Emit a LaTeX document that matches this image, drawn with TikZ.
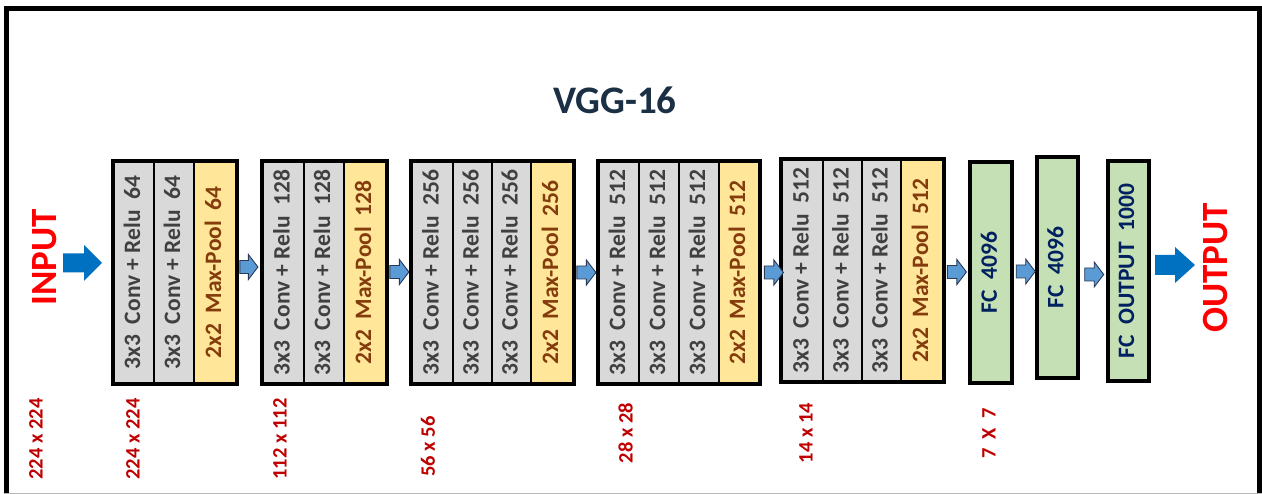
\documentclass[tikz,border=0pt]{standalone}
\usepackage{fontspec}
\setmainfont{Carlito}
\usepackage{graphicx}
\usetikzlibrary{fit,calc}

\definecolor{convfill}{HTML}{D9D9D9}
\definecolor{poolfill}{HTML}{FFE699}
\definecolor{fcfill}{HTML}{C5E0B4}
\definecolor{convtext}{HTML}{404040}
\definecolor{pooltext}{HTML}{843C0C}
\definecolor{fctext}{HTML}{002060}
\definecolor{sizetext}{HTML}{C00000}
\definecolor{titletext}{HTML}{1B2F45}
\definecolor{bigblue}{HTML}{0070C0}
\definecolor{smallblue}{HTML}{5B9BD5}
\definecolor{smalledge}{HTML}{2A3A55}

\tikzset{
  layercol/.style={draw=black, line width=2.4pt, inner sep=0pt,
    font=\bfseries\fontsize{23.5}{28}\selectfont},
  conv/.style={layercol, fill=convfill, text=convtext},
  pool/.style={layercol, fill=poolfill, text=pooltext},
  fc/.style={layercol, line width=3.4pt, fill=fcfill, text=fctext},
  blockframe/.style={draw=black, line width=3.4pt, inner sep=0pt},
  sizelabel/.style={rotate=90, inner sep=0pt, text=sizetext, font=\bfseries\fontsize{20.5}{24}\selectfont},
  iolabel/.style={rotate=90, inner sep=0pt, text=red, font=\bfseries\fontsize{37}{44}\selectfont},
  titlelabel/.style={inner sep=0pt, text=titletext, font=\bfseries\fontsize{39}{46}\selectfont},
  smallarrow/.style={fill=smallblue, draw=smalledge, line width=0.9pt, line join=miter},
  bigarrow/.style={fill=bigblue, draw=none},
}

% one layer column: style, name, left x, right x, top y, bottom y, text
% (the text is nudged slightly towards the left edge of its column)
\newcommand\layer[7]{%
  \node[#1, minimum width={(#4-#3)*1pt}, minimum height={(#6-#5)*1pt}]
    (#2) at ({(#3+#4)/2},{(#5+#6)/2})
    {\rotatebox{90}{\raisebox{2pt}[\height][\depth]{#7}}};}

% block arrow: style, tail point, length, shaft half width, head half width, head length
\newcommand\blockarrow[6]{%
  \draw[#1] let \p1=#2 in
    (\x1,\y1+#4pt) -- (\x1+#3pt-#6pt,\y1+#4pt) -- (\x1+#3pt-#6pt,\y1+#5pt)
    -- (\x1+#3pt,\y1) -- (\x1+#3pt-#6pt,\y1-#5pt) -- (\x1+#3pt-#6pt,\y1-#4pt)
    -- (\x1,\y1-#4pt) -- cycle;}

\begin{document}
\begin{tikzpicture}[x=1pt,y=-1pt]
  \useasboundingbox (0,0) rectangle (1262,494);
  \fill[white] (0,0) rectangle (1262,494);

  % page frame
  \draw[gray!55, line width=1pt] (4,493) -- (1262,493);
  \draw[black, line width=5pt] (6.5,493) -- (6.5,8.5) -- (1259.5,8.5) -- (1259.5,493);

  % title
  \node[titlelabel] (title) at (615,100) {VGG-16};

  % block 1
  \layer{conv}{c11}{114}{154}{162}{383}{3x3~~Conv + Relu~~64}
  \layer{conv}{c12}{154}{194}{162}{383}{3x3~~Conv + Relu~~64}
  \layer{pool}{c13}{194}{236}{162}{383}{2x2~~Max-Pool~~64}
  \node[blockframe, fit=(c11)(c13)] (b1) {};

  % block 2
  \layer{conv}{c21}{263}{304}{162}{383}{3x3~~Conv + Relu~~128}
  \layer{conv}{c22}{304}{344}{162}{383}{3x3~~Conv + Relu~~128}
  \layer{pool}{c23}{344}{386}{162}{383}{2x2~~Max-Pool~~128}
  \node[blockframe, fit=(c21)(c23)] (b2) {};

  % block 3
  \layer{conv}{c31}{412}{453}{162}{383}{3x3~~Conv + Relu~~256}
  \layer{conv}{c32}{453}{492}{162}{383}{3x3~~Conv + Relu~~256}
  \layer{conv}{c33}{492}{531}{162}{383}{3x3~~Conv + Relu~~256}
  \layer{pool}{c34}{531}{573}{162}{383}{2x2~~Max-Pool~~256}
  \node[blockframe, fit=(c31)(c34)] (b3) {};

  % block 4
  \layer{conv}{c41}{599}{639}{162}{383}{3x3~~Conv + Relu~~512}
  \layer{conv}{c42}{639}{679}{162}{383}{3x3~~Conv + Relu~~512}
  \layer{conv}{c43}{679}{719}{162}{383}{3x3~~Conv + Relu~~512}
  \layer{pool}{c44}{719}{759}{162}{383}{2x2~~Max-Pool~~512}
  \node[blockframe, fit=(c41)(c44)] (b4) {};

  % block 5
  \layer{conv}{c51}{782}{823}{160}{381}{3x3~~Conv + Relu~~512}
  \layer{conv}{c52}{823}{862}{160}{381}{3x3~~Conv + Relu~~512}
  \layer{conv}{c53}{862}{901}{160}{381}{3x3~~Conv + Relu~~512}
  \layer{pool}{c54}{901}{943}{160}{381}{2x2~~Max-Pool~~512}
  \node[blockframe, fit=(c51)(c54)] (b5) {};

  % fully connected layers
  \layer{fc}{f1}{970}{1012}{162}{383}{FC~~4096}
  \layer{fc}{f2}{1037}{1078}{157}{378}{FC~~4096}
  \layer{fc}{f3}{1108}{1149}{161}{381}{FC~~OUTPUT~~1000}

  % arrows between stages
  \blockarrow{smallarrow}{($(b1.east |- 0,267)+(1,0)$)}{18}{6.5}{12.5}{9.5}
  \blockarrow{smallarrow}{($(b2.east |- 0,272)+(1,0)$)}{19}{6.5}{12.5}{9.5}
  \blockarrow{smallarrow}{($(b3.east |- 0,272.5)+(1,0)$)}{19}{6.5}{12.5}{9.5}
  \blockarrow{smallarrow}{($(b4.east |- 0,272.5)+(2.5,0)$)}{19}{6.5}{12.5}{9.5}
  \blockarrow{smallarrow}{($(b5.east |- 0,272)+(1.5,0)$)}{19}{6.5}{12.5}{9.5}
  \blockarrow{smallarrow}{($(f1.east |- 0,271.5)+(2.5,0)$)}{19}{6.5}{12.5}{9.5}
  \blockarrow{smallarrow}{($(f2.east |- 0,274.5)+(5,0)$)}{19}{6.5}{12.5}{9.5}

  % input and output
  \node[iolabel] (input) at (44.5,257.5) {INPUT};
  \coordinate (inputtail) at (63,263);
  \blockarrow{bigarrow}{(inputtail)}{39}{9.5}{18}{18}
  \node[iolabel] (output) at (1215,268) {OUTPUT};
  \coordinate (outputtail) at (1155,265);
  \blockarrow{bigarrow}{(outputtail)}{40}{10}{18}{20}

  % feature map sizes
  \node[sizelabel] (s0) at (36,439) {224 x 224};
  \node[sizelabel] (s1) at (133,439) {224 x 224};
  \node[sizelabel] (s2) at (280,439) {112 x 112};
  \node[sizelabel] (s3) at (428,446.5) {56 x 56};
  \node[sizelabel] (s4) at (625.5,433) {28 x 28};
  \node[sizelabel] (s5) at (806,433) {14 x 14};
  \node[sizelabel] (s6) at (989,433.5) {7~ X~ 7};
\end{tikzpicture}
\end{document}
